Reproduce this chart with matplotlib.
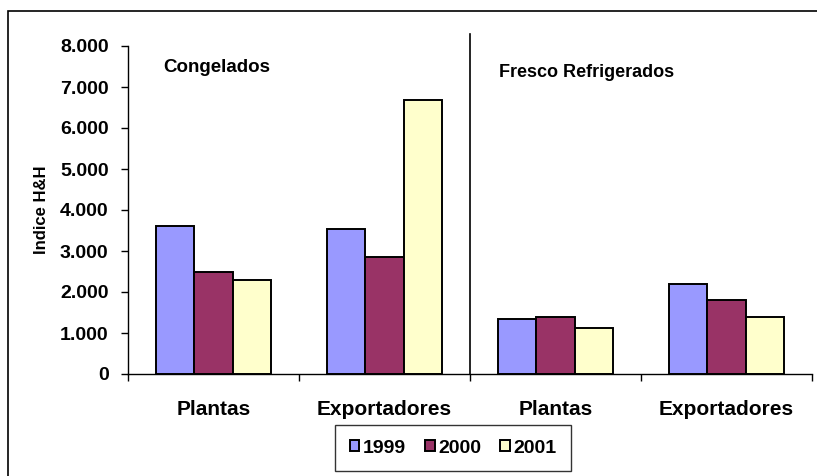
import matplotlib.pyplot as plt
import matplotlib.ticker as mticker
from matplotlib.patches import Rectangle
import numpy as np

plt.rcParams["font.family"] = ["Liberation Sans", "DejaVu Sans"]

categories = ["Plantas", "Exportadores", "Plantas", "Exportadores"]
groups = ["Congelados", "Fresco Refrigerados"]
years = ["1999", "2000", "2001"]
v1999 = [3600, 3540, 1340, 2190]
v2000 = [2500, 2860, 1380, 1800]
v2001 = [2290, 6680, 1130, 1380]
colors = ["#9999FF", "#993366", "#FFFFCC"]

W, H = 817, 476
fig = plt.figure(figsize=(W / 100, H / 100), dpi=100)
ax = fig.add_axes([128 / W, 1 - 374 / H, (812 - 128) / W, (374 - 46) / H])

x = np.arange(len(categories)) + 0.5
bw = 0.225
for i, (vals, c, lab) in enumerate(zip([v1999, v2000, v2001], colors, years)):
    ax.bar(x + (i - 1) * bw, vals, width=bw, color=c, edgecolor="black",
           linewidth=1.4, label=lab, zorder=3)

ax.set_xlim(0, len(categories))
ax.set_ylim(0, 8000)
ax.yaxis.set_major_locator(mticker.MultipleLocator(1000))
ax.yaxis.set_major_formatter(
    mticker.FuncFormatter(lambda v, p: f"{int(v):,}".replace(",", ".")))
ax.set_xticks(np.arange(len(categories) + 1))
ax.set_xticklabels([])
ax.set_xticks(x, minor=True)
ax.set_xticklabels(categories, minor=True, fontsize=15, fontweight="bold")
ax.tick_params(axis="x", which="minor", length=0, pad=19)
ax.tick_params(axis="x", which="major", length=5, width=1)
ax.tick_params(axis="y", length=5, width=1, labelsize=14, pad=9)
for t in ax.get_yticklabels():
    t.set_fontweight("bold")
for s in ["top", "right"]:
    ax.spines[s].set_visible(False)
for s in ["left", "bottom"]:
    ax.spines[s].set_linewidth(1)
ax.set_ylabel("Indice H&H", fontsize=12, fontweight="bold", labelpad=8)

# divider between groups
ax.plot([2, 2], [0, 8300], color="black", lw=1.2, clip_on=False)
ax.text(0.205, 7470, groups[0], fontsize=13.5, fontweight="bold", va="center")
ax.text(2.17, 7350, groups[1], fontsize=13, fontweight="bold", va="center")

leg = fig.legend(loc="upper left", bbox_to_anchor=(335 / W, 1 - 425 / H),
                 ncol=3, frameon=True, fancybox=False,
                 handlelength=0.5, handleheight=0.5, handletextpad=0.2,
                 columnspacing=0.95, borderpad=0.75, edgecolor="black",
                 borderaxespad=0, prop={"weight": "bold", "size": 14})
leg.get_frame().set_linewidth(1)

# outer chart frame
fig.patches.append(Rectangle((8 / W, -0.1), 1.2, 1 - 10.5 / H + 0.1,
                             transform=fig.transFigure, fill=False,
                             edgecolor="black", lw=1.2))

fig.savefig("out.png", dpi=100)
